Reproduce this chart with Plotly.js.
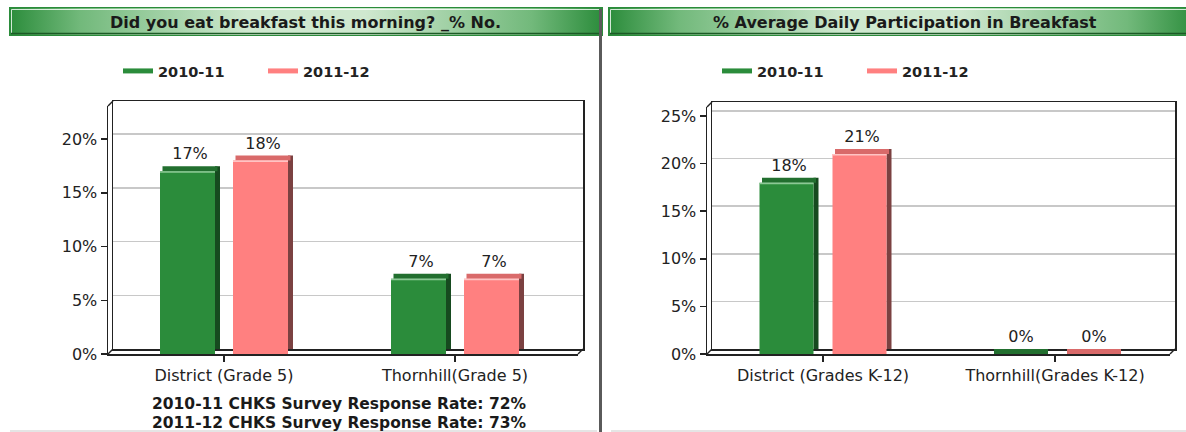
<!DOCTYPE html>
<html>
<head>
<meta charset="utf-8">
<script src="https://cdn.plot.ly/plotly-3.0.1.min.js"></script>
<style>html,body{margin:0;padding:0;background:#fff;}#chart{width:1186px;height:432px;}</style>
</head>
<body>
<div id="chart"></div>
<script>
// ---------- DATA ----------
const seriesNames = ['2010-11', '2011-12'];
const chart1Title = 'Did you eat breakfast this morning? _% No.';
const chart1Categories = ['District (Grade 5)', 'Thornhill(Grade 5)'];
const chart1Values2010 = [17, 7];
const chart1Values2011 = [18, 7];
const chart1Notes = ['2010-11 CHKS Survey Response Rate: 72%', '2011-12 CHKS Survey Response Rate: 73%'];

const chart2Title = '% Average Daily Participation in Breakfast';
const chart2Categories = ['District (Grades K-12)', 'Thornhill(Grades K-12)'];
const chart2Values2010 = [18, 0];
const chart2Values2011 = [21, 0];

const yTickStep = 5;

// ---------- STYLE / GEOMETRY ----------
const W = 1186, H = 432;
const px = x => x / W;
const py = y => 1 - y / H;
const FONT = 'DejaVu Sans';
const TXT = '#222222';
const colors = {
  front: ['#2b8c3b', '#ff8080'],
  top:   ['#226f2f', '#d96a6a'],
  side:  ['#164a1f', '#7b4141'],
  hi:    ['#8cc995', '#ffc4c4']
};

const G1 = {L:108, R:578, T:106, B:354, d:5, tick0:224, pxCat:231, pxUnit:10.75, barW:55, gap:18};
const G2 = {L:707, R:1170, T:107, B:354, d:5, tick0:823, pxCat:232, pxUnit:9.52, barW:54, gap:19};

const traces = [];
const layout = {
  width: W, height: H, autosize: false,
  margin: {l:0, r:0, t:0, b:0, pad:0},
  paper_bgcolor: '#ffffff', plot_bgcolor: 'rgba(0,0,0,0)',
  barmode: 'overlay',
  showlegend: true,
  shapes: [], annotations: [], images: []
};

function buildChart(G, backIdx, frontIdx, cats, valsList, legendId, legendX) {
  const yMax = (G.B - G.T) / G.pxUnit;
  const xMin = -(G.tick0 - G.L) / G.pxCat;
  const xMax = xMin + (G.R - G.L) / G.pxCat;
  const bx = backIdx === 1 ? 'x' : 'x' + backIdx, by = backIdx === 1 ? 'y' : 'y' + backIdx;
  const fx = 'x' + frontIdx, fy = 'y' + frontIdx;
  const axName = (p, i) => p + 'axis' + (i === 1 ? '' : i);

  // back wall
  layout[axName('x', backIdx)] = {
    domain: [px(G.L + G.d), px(G.R + G.d)], anchor: by, type: 'linear',
    range: [0, 1], showgrid: false, zeroline: false, showticklabels: false, ticks: '',
    showline: true, mirror: true, linecolor: '#222', linewidth: 1.5, fixedrange: true
  };
  layout[axName('y', backIdx)] = {
    domain: [py(G.B - G.d), py(G.T - G.d)], anchor: bx,
    range: [0, yMax], dtick: yTickStep, showgrid: true, gridcolor: '#c8c8c8', gridwidth: 1.5,
    zeroline: false, showticklabels: false, ticks: '',
    showline: true, mirror: true, linecolor: '#222', linewidth: 1.5, fixedrange: true
  };
  traces.push({type:'scatter', x:[], y:[], xaxis:bx, yaxis:by, showlegend:false, hoverinfo:'skip'});

  // front axes
  layout[axName('x', frontIdx)] = {
    domain: [px(G.L), px(G.R)], anchor: fy, type: 'category',
    range: [xMin, xMax], showgrid: false, zeroline: false,
    showline: true, linecolor: '#222', linewidth: 1.5,
    ticks: 'outside', ticklen: 6, tickwidth: 1.5, tickcolor: '#222',
    tickfont: {family: FONT, size: 16, color: TXT}, fixedrange: true
  };
  layout[axName('y', frontIdx)] = {
    domain: [py(G.B), py(G.T)], anchor: fx,
    range: [0, yMax], dtick: yTickStep, tick0: 0, ticksuffix: '%',
    showgrid: false, zeroline: false,
    showline: true, linecolor: '#222', linewidth: 1.5,
    ticks: 'outside', ticklen: 6, tickwidth: 1.5, tickcolor: '#222',
    tickfont: {family: FONT, size: 16, color: TXT}, fixedrange: true
  };

  // 3D bars
  const wU = G.barW / G.pxCat, dU = G.d / G.pxCat, dyU = G.d / G.pxUnit;
  const hiU = 1.5 / G.pxUnit;
  const offsets = [-(G.barW + G.gap / 2) / G.pxCat, (G.gap / 2) / G.pxCat];
  valsList.forEach((vals, s) => {
    const off = offsets[s];
    // side face
    traces.push({type:'bar', x:cats, y:vals, base:dyU, offset:off + wU, width:dU,
      xaxis:fx, yaxis:fy, marker:{color:colors.side[s], line:{width:0}},
      showlegend:false, hoverinfo:'skip'});
    // top face
    traces.push({type:'bar', x:cats, y:vals.map(() => dyU), base:vals, offset:off + dU / 2, width:wU,
      xaxis:fx, yaxis:fy, marker:{color:colors.top[s], line:{width:0}},
      text: vals.map(v => v + '%'), textposition:'outside', cliponaxis:false, constraintext:'none',
      textfont:{family:FONT, size:16, color:TXT},
      showlegend:false, hoverinfo:'skip'});
    // front face
    traces.push({type:'bar', x:cats, y:vals, base:0, offset:off, width:wU,
      xaxis:fx, yaxis:fy, marker:{color:colors.front[s], line:{width:0}},
      showlegend:false, hoverinfo:'skip'});
    // front-edge highlight
    traces.push({type:'bar', x:cats, y:vals.map(v => v > 0 ? hiU : 0), base:vals.map(v => v - hiU), offset:off, width:wU,
      xaxis:fx, yaxis:fy, marker:{color:colors.hi[s], line:{width:0}},
      showlegend:false, hoverinfo:'skip'});
    // legend entry
    traces.push({type:'scatter', mode:'lines', x:[null], y:[null], xaxis:fx, yaxis:fy,
      name: seriesNames[s], legend: legendId, line:{color:colors.front[s], width:5},
      hoverinfo:'skip'});
  });

  layout[legendId] = {
    x: px(legendX), xanchor: 'left', y: py(71), yanchor: 'middle',
    orientation: 'h', bgcolor: 'rgba(0,0,0,0)', borderwidth: 0,
    font: {family: FONT, size: 14.5, color: TXT, weight: 'bold'},
    entrywidth: 100, entrywidthmode: 'pixels', itemclick: false, itemdoubleclick: false
  };

  // 3D corner connectors
  const ln = (x0, y0, x1, y1) => layout.shapes.push({type:'line', xref:'paper', yref:'paper',
    x0:px(x0), y0:py(y0), x1:px(x1), y1:py(y1), line:{color:'#222', width:1.5}});
  ln(G.L, G.T, G.L + G.d, G.T - G.d);
  ln(G.L, G.B, G.L + G.d, G.B - G.d);
  ln(G.R, G.B, G.R + G.d, G.B - G.d);
}

buildChart(G1, 1, 3, chart1Categories, [chart1Values2010, chart1Values2011], 'legend', 118);
buildChart(G2, 2, 4, chart2Categories, [chart2Values2010, chart2Values2011], 'legend2', 717);

// headers
function headerSVG(w, h) {
  const svg = `<svg xmlns="http://www.w3.org/2000/svg" width="${w}" height="${h}" viewBox="0 0 ${w} ${h}" preserveAspectRatio="none">` +
    `<defs><linearGradient id="g" x1="0" y1="0" x2="1" y2="0">` +
    `<stop offset="0" stop-color="#2b8c3b"/><stop offset="0.12" stop-color="#72b97b"/>` +
    `<stop offset="0.40" stop-color="#cfe8cf"/><stop offset="0.60" stop-color="#cfe8cf"/>` +
    `<stop offset="0.88" stop-color="#72b97b"/><stop offset="1" stop-color="#2b8c3b"/></linearGradient></defs>` +
    `<rect x="0" y="0" width="${w}" height="${h}" fill="url(#g)"/>` +
    `<rect x="0.5" y="0.5" width="${w - 1}" height="${h - 1}" fill="none" stroke="#2b8c3b"/>` +
    `<path d="M2.5 ${h - 3} V2.5 H${w - 2}" fill="none" stroke="#ffffff" stroke-opacity="0.8"/>` +
    `<path d="M2 ${h - 2.5} H${w - 2}" stroke="#1c5a26" stroke-width="1.5"/></svg>`;
  return 'data:image/svg+xml;charset=utf-8,' + encodeURIComponent(svg);
}
layout.images.push({source: headerSVG(594, 29), xref:'paper', yref:'paper',
  x: px(9), y: py(7), sizex: 594 / W, sizey: 29 / H, xanchor:'left', yanchor:'top', sizing:'stretch', layer:'below'});
layout.images.push({source: headerSVG(590, 29), xref:'paper', yref:'paper',
  x: px(608), y: py(7), sizex: 590 / W, sizey: 29 / H, xanchor:'left', yanchor:'top', sizing:'stretch', layer:'below'});

const ann = (text, x, y, size, bold) => layout.annotations.push({text, xref:'paper', yref:'paper',
  x: px(x), y: py(y), xanchor:'center', yanchor:'middle', showarrow:false,
  font:{family:FONT, size, color:'#1a1a1a', weight: bold ? 'bold' : 'normal'}});
ann(chart1Title, 305, 22, 16, true);
ann(chart2Title, 905, 22, 16, true);
ann(chart1Notes[0], 339, 404, 15.5, true);
ann(chart1Notes[1], 339, 423, 15.5, true);

// divider & bottom rule
layout.shapes.push({type:'line', xref:'paper', yref:'paper', x0:px(600.5), x1:px(600.5), y0:py(9), y1:py(432),
  line:{color:'#5a5a5a', width:3}});
layout.shapes.push({type:'line', xref:'paper', yref:'paper', x0:px(10), x1:px(597), y0:py(431), y1:py(431),
  line:{color:'#dddddd', width:1.5}});
layout.shapes.push({type:'line', xref:'paper', yref:'paper', x0:px(611), x1:px(1186), y0:py(431), y1:py(431),
  line:{color:'#dddddd', width:1.5}});

Plotly.newPlot('chart', traces, layout, {staticPlot: true, displayModeBar: false});
</script>
</body>
</html>
